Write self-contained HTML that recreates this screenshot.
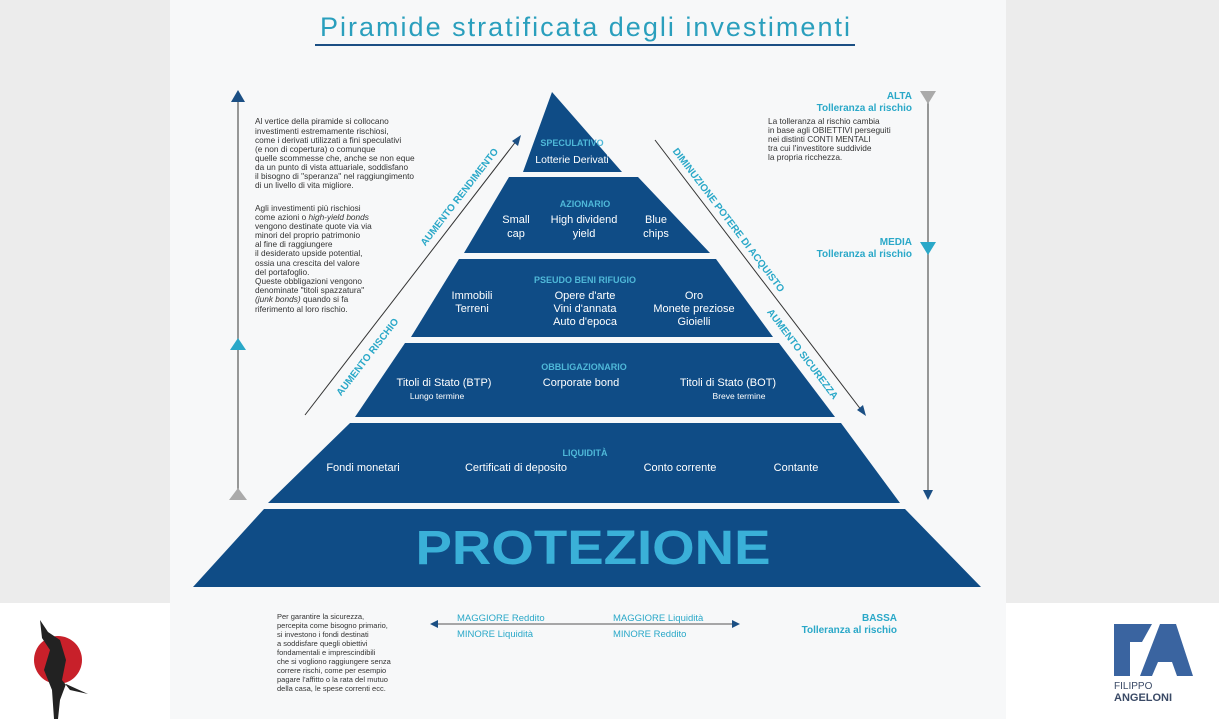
<!DOCTYPE html>
<html><head><meta charset="utf-8"><style>
body{margin:0;width:1219px;height:719px;overflow:hidden;background:#fff;font-family:"Liberation Sans",sans-serif}
</style></head><body>
<svg width="1219" height="719" viewBox="0 0 1219 719" xmlns="http://www.w3.org/2000/svg" font-family="Liberation Sans, sans-serif">
<rect x="0" y="0" width="1219" height="603" fill="#ececec"/>
<rect x="170" y="0" width="836" height="719" fill="#f7f8f9"/>
<text x="585" y="36" font-size="27" fill="#2a9fbd" text-anchor="middle" textLength="530" lengthAdjust="spacing">Piramide stratificata degli investimenti</text>
<line x1="315" y1="45" x2="855" y2="45" stroke="#1b4f84" stroke-width="2"/>

<g fill="#0f4c86">
<polygon points="552,92 622,172 523,172"/>
<polygon points="509,177 638,177 710,253 464,253"/>
<polygon points="459,259 716,259 773,337 411,337"/>
<polygon points="405,343 779,343 835,417 355,417"/>
<polygon points="350,423 841,423 900,503 268,503"/>
<polygon points="264,509 905,509 981,587 193,587"/>
</g>
<g fill="#fff" text-anchor="middle" font-size="11">
<text x="572" y="146" font-size="9" font-weight="bold" fill="#4fb8d8">SPECULATIVO</text>
<text x="572" y="163" font-size="10.5">Lotterie  Derivati</text>
<text x="585" y="207" font-size="9" font-weight="bold" fill="#4fb8d8">AZIONARIO</text>
<text x="516" y="223">Small</text><text x="516" y="237">cap</text>
<text x="584" y="223">High dividend</text><text x="584" y="237">yield</text>
<text x="656" y="223">Blue</text><text x="656" y="237">chips</text>
<text x="585" y="283" font-size="9" font-weight="bold" fill="#4fb8d8">PSEUDO BENI RIFUGIO</text>
<text x="472" y="299">Immobili</text><text x="472" y="312">Terreni</text>
<text x="585" y="299">Opere d'arte</text><text x="585" y="312">Vini d'annata</text><text x="585" y="325">Auto d'epoca</text>
<text x="694" y="299">Oro</text><text x="694" y="312">Monete preziose</text><text x="694" y="325">Gioielli</text>
<text x="584" y="370" font-size="9" font-weight="bold" fill="#4fb8d8">OBBLIGAZIONARIO</text>
<text x="444" y="386">Titoli di Stato (BTP)</text><text x="437" y="399" font-size="8.5">Lungo termine</text>
<text x="581" y="386">Corporate bond</text>
<text x="728" y="386">Titoli di Stato (BOT)</text><text x="739" y="399" font-size="8.5">Breve termine</text>
<text x="585" y="456" font-size="9" font-weight="bold" fill="#4fb8d8">LIQUIDITÀ</text>
<text x="363" y="471">Fondi monetari</text>
<text x="516" y="471">Certificati di deposito</text>
<text x="680" y="471">Conto corrente</text>
<text x="796" y="471">Contante</text>
<text x="593" y="564" font-size="48" font-weight="bold" fill="#3ab0d8" textLength="355" lengthAdjust="spacingAndGlyphs">PROTEZIONE</text>
</g>

<line x1="238" y1="100" x2="238" y2="492" stroke="#777" stroke-width="1.5"/>
<polygon points="238,90 231,102 245,102" fill="#1b4f84"/>
<polygon points="238,338 230,350 246,350" fill="#2aa8c8"/>
<polygon points="238,488 229,500 247,500" fill="#aaa"/>
<line x1="928" y1="100" x2="928" y2="492" stroke="#777" stroke-width="1.5"/>
<polygon points="920,91 936,91 928,104" fill="#aaa"/>
<polygon points="920,242 936,242 928,255" fill="#2aa8c8"/>
<polygon points="923,490 933,490 928,500" fill="#1b4f84"/>

<line x1="305" y1="415" x2="517" y2="140" stroke="#333" stroke-width="1"/>
<polygon points="521,135 512,141 518,146" fill="#1b4f84"/>
<line x1="655" y1="140" x2="862" y2="411" stroke="#333" stroke-width="1"/>
<polygon points="866,416 857,410 863,405" fill="#1b4f84"/>
<g font-size="10" font-weight="bold" fill="#2aa8c8" text-anchor="middle">
<text transform="translate(462,199) rotate(-52.3)">AUMENTO RENDIMENTO</text>
<text transform="translate(370,359) rotate(-52.3)">AUMENTO RISCHIO</text>
<text transform="translate(726,222) rotate(52.8)">DIMINUZIONE POTERE DI ACQUISTO</text>
<text transform="translate(800,356) rotate(52.8)">AUMENTO SICUREZZA</text>
</g>

<g font-size="8.3" fill="#333">
<text x="255" y="124">Al vertice della piramide si collocano</text>
<text x="255" y="134">investimenti estremamente rischiosi,</text>
<text x="255" y="143">come i derivati utilizzati a fini speculativi</text>
<text x="255" y="152">(e non di copertura) o comunque</text>
<text x="255" y="161">quelle scommesse che, anche se non eque</text>
<text x="255" y="170">da un punto di vista attuariale, soddisfano</text>
<text x="255" y="179">il bisogno di "speranza" nel raggiungimento</text>
<text x="255" y="188">di un livello di vita migliore.</text>
<text x="255" y="211">Agli investimenti più rischiosi</text>
<text x="255" y="220">come azioni o <tspan font-style="italic">high-yield bonds</tspan></text>
<text x="255" y="229">vengono destinate quote via via</text>
<text x="255" y="238">minori del proprio patrimonio</text>
<text x="255" y="247">al fine di raggiungere</text>
<text x="255" y="256">il desiderato upside potential,</text>
<text x="255" y="266">ossia una crescita del valore</text>
<text x="255" y="275">del portafoglio.</text>
<text x="255" y="284">Queste obbligazioni vengono</text>
<text x="255" y="293">denominate "titoli spazzatura"</text>
<text x="255" y="302"><tspan font-style="italic">(junk bonds)</tspan> quando si fa</text>
<text x="255" y="312">riferimento al loro rischio.</text>
</g>
<g font-size="10" font-weight="bold" fill="#2aa8c8" text-anchor="end">
<text x="912" y="99">ALTA</text><text x="912" y="111">Tolleranza al rischio</text>
<text x="912" y="245">MEDIA</text><text x="912" y="257">Tolleranza al rischio</text>
<text x="897" y="621">BASSA</text><text x="897" y="633">Tolleranza al rischio</text>
</g>
<g font-size="8.3" fill="#333">
<text x="768" y="124">La tolleranza al rischio cambia</text>
<text x="768" y="133">in base agli OBIETTIVI perseguiti</text>
<text x="768" y="142">nei distinti CONTI MENTALI</text>
<text x="768" y="151">tra cui l'investitore suddivide</text>
<text x="768" y="160">la propria ricchezza.</text>
</g>

<g font-size="7.5" fill="#333">
<text x="277" y="619">Per garantire la sicurezza,</text>
<text x="277" y="628">percepita come bisogno primario,</text>
<text x="277" y="637">si investono i fondi destinati</text>
<text x="277" y="646">a soddisfare quegli obiettivi</text>
<text x="277" y="655">fondamentali e imprescindibili</text>
<text x="277" y="664">che si vogliono raggiungere senza</text>
<text x="277" y="673">correre rischi, come per esempio</text>
<text x="277" y="682">pagare l'affitto o la rata del mutuo</text>
<text x="277" y="691">della casa, le spese correnti ecc.</text>
</g>
<line x1="436" y1="624" x2="734" y2="624" stroke="#555" stroke-width="1"/>
<polygon points="430,624 438,620 438,628" fill="#1b4f84"/>
<polygon points="740,624 732,620 732,628" fill="#1b4f84"/>
<g font-size="9.5" fill="#2aa8c8">
<text x="457" y="621">MAGGIORE Reddito</text>
<text x="613" y="621">MAGGIORE Liquidità</text>
<text x="457" y="637">MINORE Liquidità</text>
<text x="613" y="637">MINORE Reddito</text>
</g>

<circle cx="58" cy="660" r="24" fill="#c8202a"/>
<path d="M40,620 L48,632 L60,640 L66,660 L62,680 L70,690 L88,694 L66,684 L60,700 L58,719 L54,719 L52,690 L44,670 L50,650 L42,638 Z" fill="#222"/>
<polygon points="1114,624 1152,624 1142,642 1130,642 1130,676 1114,676" fill="#3a64a0"/>
<polygon points="1160,624 1176,624 1193,676 1177,676 1172,662 1158,662 1152,676 1140,676" fill="#3a64a0"/>
<text x="1114" y="689" font-size="10" fill="#3a4a66">FILIPPO</text>
<text x="1114" y="701" font-size="11" font-weight="bold" fill="#3a4a66">ANGELONI</text>
</svg>
</body></html>
